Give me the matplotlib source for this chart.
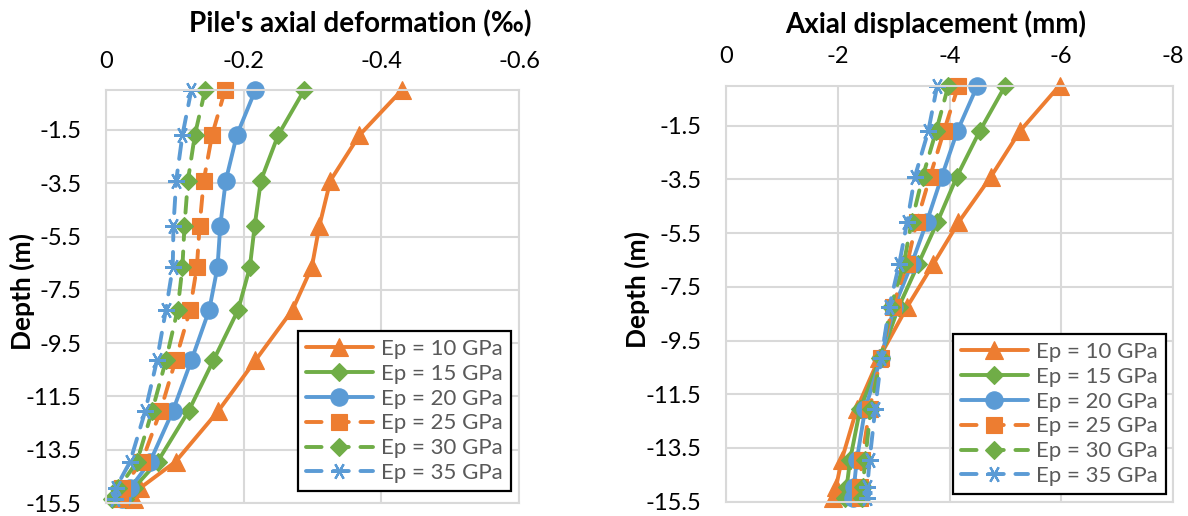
import matplotlib
matplotlib.use("Agg")
import matplotlib.pyplot as plt

plt.rcParams['font.family'] = ['Lato', 'DejaVu Sans']

# ---------------- data ----------------
depth = [0, -1.7, -3.4, -5.1, -6.65, -8.25, -10.15, -12.05, -13.95, -14.95, -15.35]

labels = ["Ep = 10 GPa", "Ep = 15 GPa", "Ep = 20 GPa",
          "Ep = 25 GPa", "Ep = 30 GPa", "Ep = 35 GPa"]

# Pile's axial deformation (permil)
def10 = [-0.430, -0.368, -0.326, -0.310, -0.299, -0.271, -0.217, -0.163, -0.101, -0.049, -0.040]
def15 = [-0.288, -0.250, -0.225, -0.216, -0.209, -0.192, -0.156, -0.120, -0.075, -0.040, -0.028]
def20 = [-0.217, -0.190, -0.174, -0.166, -0.162, -0.150, -0.124, -0.097, -0.064, -0.035, -0.023]
def25 = [-0.173, -0.154, -0.142, -0.136, -0.132, -0.122, -0.101, -0.079, -0.052, -0.023, -0.020]
def30 = [-0.144, -0.129, -0.119, -0.114, -0.111, -0.104, -0.087, -0.067, -0.045, -0.018, -0.009]
def35 = [-0.124, -0.111, -0.102, -0.098, -0.097, -0.087, -0.074, -0.057, -0.035, -0.014, -0.013]

# Axial displacement (mm)
dis10 = [-5.97, -5.26, -4.74, -4.16, -3.71, -3.24, -2.74, -2.34, -2.07, -1.97, -1.92]
dis15 = [-5.00, -4.54, -4.13, -3.78, -3.44, -3.09, -2.76, -2.40, -2.22, -2.16, -2.13]
dis20 = [-4.50, -4.14, -3.86, -3.59, -3.32, -3.01, -2.77, -2.49, -2.34, -2.29, -2.28]
dis25 = [-4.16, -3.90, -3.65, -3.41, -3.24, -2.98, -2.77, -2.57, -2.43, -2.40, -2.39]
dis30 = [-3.98, -3.76, -3.52, -3.32, -3.18, -2.95, -2.77, -2.59, -2.49, -2.45, -2.43]
dis35 = [-3.78, -3.62, -3.38, -3.24, -3.10, -2.92, -2.78, -2.67, -2.57, -2.53, -2.53]

yticks = [-1.5, -3.5, -5.5, -7.5, -9.5, -11.5, -13.5, -15.5]
xticks_left = [0, -0.2, -0.4, -0.6]
xticks_right = [0, -2, -4, -6, -8]

# ---------------- styles ----------------
ORANGE = "#ED7D31"
GREEN = "#70AD47"
BLUE = "#5B9BD5"
GRID = "#D9D9D9"
asterisk = (6, 2, 90)
styles = [
    dict(color=ORANGE, marker="^", ms=13, ls="-"),
    dict(color=GREEN, marker="D", ms=9.5, ls="-"),
    dict(color=BLUE, marker="o", ms=12.5, ls="-"),
    dict(color=ORANGE, marker="s", ms=12, ls=(0, (4, 3))),
    dict(color=GREEN, marker="D", ms=9.5, ls=(0, (4, 3))),
    dict(color=BLUE, marker=asterisk, ms=12, ls=(0, (4, 3)), mew=1.6),
]

W, H = 1188, 516
fig = plt.figure(figsize=(W / 100, H / 100), dpi=100)


def px_axes(x0, x1, y0, y1):
    return fig.add_axes([x0 / W, 1 - y1 / H, (x1 - x0) / W, (y1 - y0) / H])


def setup(ax, xlim, xticks):
    ax.set_xlim(*xlim)
    ax.set_ylim(-15.5, 0)
    ax.set_xticks(xticks)
    ax.set_xticklabels([("%g" % t) for t in xticks])
    ax.set_yticks(yticks)
    ax.set_yticklabels([("%g" % t) for t in yticks])
    ax.xaxis.tick_top()
    ax.tick_params(axis="x", length=0, pad=13, labelsize=17, labelcolor="#000000")
    ax.tick_params(axis="y", length=0, pad=17.5, labelsize=17, labelcolor="#000000")
    ax.grid(True, color=GRID, lw=1.5)
    ax.set_axisbelow(True)
    for s in ax.spines.values():
        s.set_color(GRID)
        s.set_linewidth(1.5)


def draw(ax, series):
    handles = []
    for vals, st, lab in zip(series, styles, labels):
        (h,) = ax.plot(vals, depth, color=st["color"], ls=st["ls"], lw=2.8,
                       marker=st["marker"], ms=st["ms"],
                       mew=st.get("mew", 0.8), mec=st["color"], mfc=st["color"],
                       dash_capstyle="round", solid_capstyle="round",
                       clip_on=False, label=lab)
        handles.append(h)
    return handles


def legend(ax, handles, right, bottom):
    leg = ax.legend(handles=handles, loc="lower right",
                    bbox_to_anchor=(right / W, 1 - bottom / H),
                    bbox_transform=fig.transFigure, borderaxespad=0,
                    fontsize=16, numpoints=1, handlelength=3.0,
                    handletextpad=0.4, labelspacing=0.22, borderpad=0.35,
                    fancybox=False, framealpha=1, edgecolor="black")
    leg.get_frame().set_linewidth(1.6)
    for t in leg.get_texts():
        t.set_color("#595959")
    return leg


# left chart
ax1 = px_axes(106, 519, 90, 503)
setup(ax1, (0, -0.6), xticks_left)
h1 = draw(ax1, [def10, def15, def20, def25, def30, def35])
legend(ax1, h1, 511, 491)
fig.text(360 / W, 1 - 24 / H, "Pile's axial deformation (‰)", ha="center", va="center",
         fontsize=20, fontweight="bold")
fig.text(22 / W, 1 - 292 / H, "Depth (m)", ha="center", va="center", rotation=90,
         fontsize=19, fontweight="bold")

# right chart
ax2 = px_axes(726, 1173, 85.5, 501.7)
setup(ax2, (0, -8), xticks_right)
h2 = draw(ax2, [dis10, dis15, dis20, dis25, dis30, dis35])
legend(ax2, h2, 1166, 494)
fig.text(936 / W, 1 - 24 / H, "Axial displacement (mm)", ha="center", va="center",
         fontsize=20, fontweight="bold")
fig.text(637 / W, 1 - 290 / H, "Depth (m)", ha="center", va="center", rotation=90,
         fontsize=19, fontweight="bold")

fig.savefig("out.png", dpi=100)
